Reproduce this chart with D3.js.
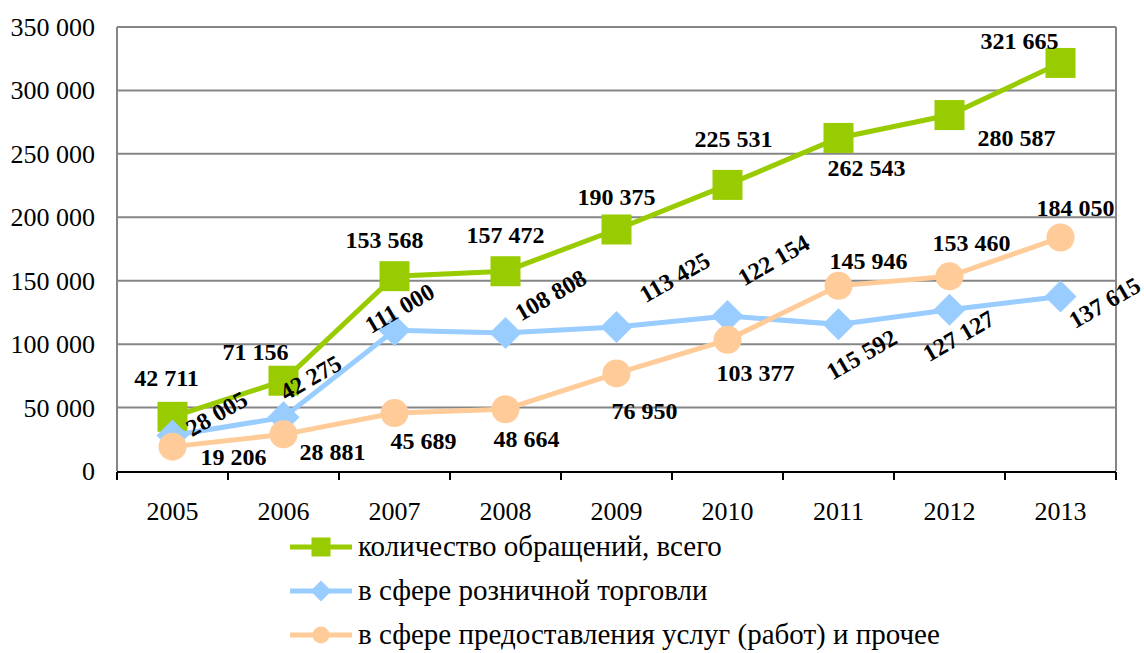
<!DOCTYPE html>
<html><head><meta charset="utf-8">
<script src="https://cdn.jsdelivr.net/npm/d3@7"></script>
<style>
html,body{margin:0;padding:0;background:#fff;}
svg{display:block;}
</style></head>
<body>
<svg id="chart" width="1144" height="653" font-family="'Liberation Serif', 'Times New Roman', Tinos, serif"></svg>
<script>
const years = ["2005","2006","2007","2008","2009","2010","2011","2012","2013"];
const totalAppeals = [42711, 71156, 153568, 157472, 190375, 225531, 262543, 280587, 321665];
const retailTrade = [28005, 42275, 111000, 108808, 113425, 122154, 115592, 127127, 137615];
const servicesOther = [19206, 28881, 45689, 48664, 76950, 103377, 145946, 153460, 184050];
const yTicks = [0, 50000, 100000, 150000, 200000, 250000, 300000, 350000];
const seriesNames = ["количество обращений, всего", "в сфере розничной торговли", "в сфере предоставления услуг (работ) и прочее"];

// label placement offsets (layout only)
const totalLabelOffsets = [[-6,-39],[-28,-29],[-10,-37],[0,-37],[0,-33],[6,-46],[28,30],[67,23],[-41,-22]];
const retailLabelOffsets = [[44,-22],[27,-40],[5,-22],[45,-38],[58,-50],[46,-56],[23,30],[9,26],[44,6]];
const servicesLabelOffsets = [[61,10],[49,17],[29,28],[21,29],[28,37],[28,33],[30,-25],[22,-34],[15,-30]];

const svg = d3.select("#chart");
const L = 117, R = 1116, T = 27, B = 471;
const x = d3.scaleBand().domain(years).range([L, R]);
const y = d3.scaleLinear().domain([0, 350000]).range([B, T]);
const fmt = v => d3.format(",")(v).replace(/,/g, " ");

// gridlines
svg.append("g").selectAll("line").data(yTicks.filter(v => v > 0)).join("line")
  .attr("x1", L).attr("x2", R).attr("y1", d => y(d)).attr("y2", d => y(d))
  .attr("stroke", "#868686").attr("stroke-width", 2);
// left & right borders
svg.append("line").attr("x1", L).attr("x2", L).attr("y1", T).attr("y2", B).attr("stroke", "#868686").attr("stroke-width", 2);
svg.append("line").attr("x1", R).attr("x2", R).attr("y1", T).attr("y2", B).attr("stroke", "#868686").attr("stroke-width", 2);

// y labels
svg.append("g").selectAll("text").data(yTicks).join("text")
  .attr("x", 95).attr("y", d => y(d) + 9).attr("text-anchor", "end")
  .attr("font-size", 26).attr("fill", "#000").text(d => d === 0 ? "0" : fmt(d));

// x axis
const xAxis = svg.append("g");
xAxis.append("line").attr("x1", L).attr("x2", R).attr("y1", B + 1).attr("y2", B + 1).attr("stroke", "#000").attr("stroke-width", 2);
const boundaries = years.map(d => x(d)).concat([R]);
xAxis.selectAll("line.tick").data(boundaries).join("line").attr("class","tick")
  .attr("x1", d => d).attr("x2", d => d).attr("y1", B + 1).attr("y2", B + 9)
  .attr("stroke", "#000").attr("stroke-width", 2);
xAxis.selectAll("text").data(years).join("text")
  .attr("x", d => x(d) + x.bandwidth()/2).attr("y", 520).attr("text-anchor", "middle")
  .attr("font-size", 26).attr("fill", "#000").text(d => d);

const cx = d => x(d) + x.bandwidth()/2;
const series = [
  {vals: totalAppeals, color: "#99CC00", shape: "square", offs: totalLabelOffsets, rot: 0},
  {vals: retailTrade, color: "#99CCFF", shape: "diamond", offs: retailLabelOffsets, rot: -30},
  {vals: servicesOther, color: "#FFCC99", shape: "circle", offs: servicesLabelOffsets, rot: 0}
];
const line = d3.line().x((d,i) => cx(years[i])).y(d => y(d));

function drawMarker(g, shape, color, px, py, s) {
  if (shape === "square") {
    g.append("rect").attr("x", px - s/2).attr("y", py - s/2).attr("width", s).attr("height", s).attr("fill", color);
  } else if (shape === "diamond") {
    const h = s/2 + 1;
    g.append("path").attr("d", `M${px},${py-h}L${px+h},${py}L${px},${py+h}L${px-h},${py}Z`).attr("fill", color);
  } else {
    g.append("circle").attr("cx", px).attr("cy", py).attr("r", s/2 - 1).attr("fill", color);
  }
}

series.forEach(s => {
  const g = svg.append("g");
  g.append("path").attr("d", line(s.vals)).attr("fill", "none").attr("stroke", s.color).attr("stroke-width", 5);
  s.vals.forEach((v, i) => drawMarker(g, s.shape, s.color, cx(years[i]), y(v), 30));
});

series.forEach(s => {
  const g = svg.append("g");
  s.vals.forEach((v, i) => {
    const lx = cx(years[i]) + s.offs[i][0], ly = y(v) + s.offs[i][1];
    g.append("text").attr("x", lx).attr("y", ly).attr("dy", "0.35em")
      .attr("text-anchor", "middle").attr("font-size", 24).attr("font-weight", "bold")
      .attr("transform", s.rot ? `rotate(${s.rot},${lx},${ly})` : null)
      .text(fmt(v));
  });
});

// legend
const legend = svg.append("g");
series.forEach((s, i) => {
  const ly = 547 + i * 44;
  legend.append("line").attr("x1", 290).attr("x2", 352).attr("y1", ly).attr("y2", ly).attr("stroke", s.color).attr("stroke-width", 5);
  drawMarker(legend, s.shape, s.color, 321, ly, 19);
  legend.append("text").attr("x", 358).attr("y", ly + 9).attr("font-size", 29).attr("fill", "#000").text(seriesNames[i]);
});
</script>
</body></html>
